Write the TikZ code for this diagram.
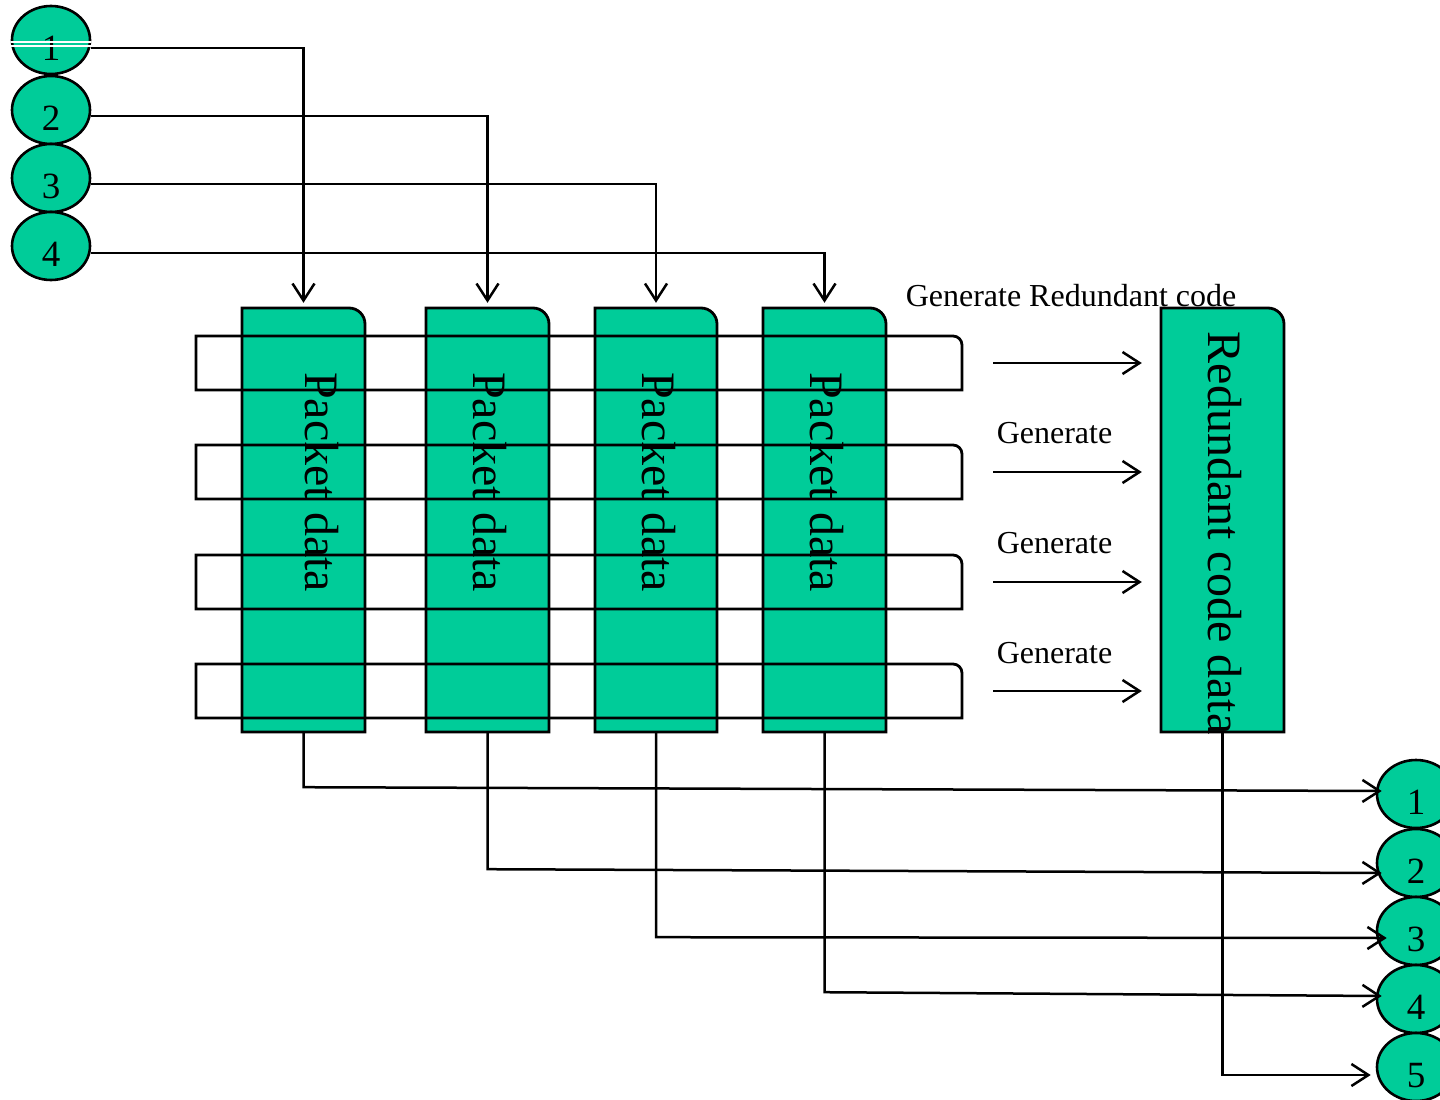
\documentclass[tikz,border=0pt]{standalone}
\usepackage{fontspec}
\setmainfont{Liberation Serif}
\usetikzlibrary{arrows.meta,shapes.geometric,fit}
\definecolor{tealfill}{RGB}{0,204,153}
\newcommand\tallbox[6]{%
  \path[fill=tealfill,draw=black,line width=2.8pt,line join=miter]
   (#2,#5) -- (#2,#3) -- (#4-#6,#3) .. controls (#4-0.448*#6,#3) and (#4,#3+0.448*#6) .. (#4,#3+#6) -- (#4,#5) -- cycle;
  \node[fit={(#2,#3) (#4,#5)},inner sep=0pt] (#1) {};
}
\newcommand\rowframe[6]{%
  \path[draw=black,line width=2.8pt,line join=miter]
   (#2,#5) -- (#2,#3) -- (#4-#6,#3) .. controls (#4-0.448*#6,#3) and (#4,#3+0.448*#6) .. (#4,#3+#6) -- (#4,#5) -- cycle;
  \node[fit={(#2,#3) (#4,#5)},inner sep=0pt] (#1) {};
}
\tikzset{
  conn/.style={draw=black,line width=2.5pt},
  arr/.style={-{Straight Barb[length=17pt,width=22pt]}},
  num/.style={ellipse,draw=black,fill=tealfill,line width=2.6pt,minimum width=78pt,minimum height=68pt,
    inner sep=0pt,text height=40pt,text depth=0pt,font=\fontsize{37pt}{39pt}\selectfont},
  vert/.style={rotate=-90,anchor=base,inner sep=0pt,font=\fontsize{48pt}{50pt}\selectfont},
  lbl/.style={anchor=base,inner sep=0pt,font=\fontsize{32pt}{34pt}\selectfont}
}
\begin{document}
\begin{tikzpicture}[x=1pt,y=-1pt]
\useasboundingbox (0,0) rectangle (1440,1100);
% source circles
\node[num] (L1) at (51,40) {1};
\node[num] (L2) at (51,110) {2};
\node[num] (L3) at (51,178) {3};
\node[num] (L4) at (51,246) {4};
\draw[white,line width=1.2pt] ([yshift=-2pt]L1.west) -- ([yshift=-2pt]L1.east);
\draw[white,line width=1.2pt] ([yshift=-6pt]L1.west) -- ([yshift=-6pt]L1.east);
% packet columns
\tallbox{col1}{242}{308}{365}{732}{16}
\tallbox{col2}{426}{308}{549}{732}{16}
\tallbox{col3}{595}{308}{717}{732}{16}
\tallbox{col4}{763}{308}{886}{732}{16}
\tallbox{red}{1161}{308}{1284}{732}{16}
% row frames
\rowframe{row1}{196}{336}{962}{390}{9}
\rowframe{row2}{196}{445}{962}{499}{9}
\rowframe{row3}{196}{555}{962}{609}{9}
\rowframe{row4}{196}{664}{962}{718}{9}
% vertical texts
\node[vert] (t1) at (305,482) {Packet data};
\node[vert] (t2) at (473,482) {Packet data};
\node[vert] (t3) at (642,482) {Packet data};
\node[vert] (t4) at (810,482) {Packet data};
\node[vert] (tr) at (1208,533) {Redundant code data};
% labels
\node[lbl] (g0) at (1071,306) {Generate Redundant code};
\node[lbl] (g1) at (1054.5,443) {Generate};
\node[lbl] (g2) at (1054.5,553) {Generate};
\node[lbl] (g3) at (1054.5,663) {Generate};
% generate arrows
\draw[conn,arr,shorten >=19pt] ([xshift=31pt]row1.east) -- (row1.east -| red.west);
\draw[conn,arr,shorten >=19pt] ([xshift=31pt]row2.east) -- (row2.east -| red.west);
\draw[conn,arr,shorten >=19pt] ([xshift=31pt]row3.east) -- (row3.east -| red.west);
\draw[conn,arr,shorten >=19pt] ([xshift=31pt]row4.east) -- (row4.east -| red.west);
% input connectors
\draw[conn,arr] ([yshift=-8pt]L1.east) -| ([yshift=5pt]col1.north);
\draw[conn,arr] ([yshift=-6pt]L2.east) -| ([yshift=5pt]col2.north);
\draw[conn,arr] ([yshift=-6pt]L3.east) -| ([yshift=5pt]col3.north);
\draw[conn,arr] ([yshift=-7pt]L4.east) -| ([yshift=5pt]col4.north);
% destination circles
\node[num] (R1) at (1416,794) {1};
\node[num] (R2) at (1416,863) {2};
\node[num] (R3) at (1416,931) {3};
\node[num] (R4) at (1416,999) {4};
\node[num] (R5) at (1416,1067) {5};
% output connectors
\draw[conn,arr] (col1.south) -- ++(0,55) -- ([xshift=6pt,yshift=3pt]R1.west);
\draw[conn,arr] (col2.south) -- ++(0,137) -- ([xshift=6pt,yshift=-10pt]R2.west);
\draw[conn,arr] (col3.south) -- ++(0,205) -- ([xshift=11pt,yshift=-7pt]R3.west);
\draw[conn,arr] (col4.south) -- ++(0,260) -- ([xshift=6pt,yshift=3pt]R4.west);
\draw[conn,arr] (red.south) |- ([xshift=-5pt,yshift=-8pt]R5.west);
\end{tikzpicture}
\end{document}
